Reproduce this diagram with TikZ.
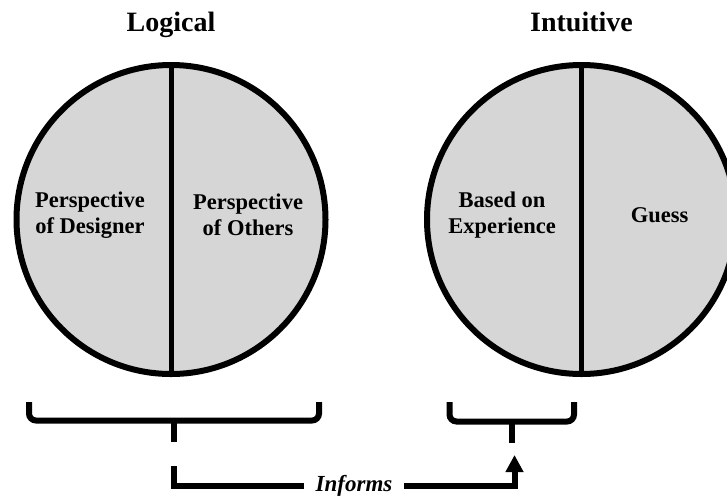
\documentclass[tikz,border=0pt]{standalone}
\usepackage{fontspec}
\setmainfont{Liberation Serif}
\usetikzlibrary{arrows.meta}
\definecolor{relleno}{gray}{0.84}

\begin{document}
\begin{tikzpicture}[x=1pt, y=-1pt,
    mitad/.style={circle, draw=black, line width=6pt, fill=relleno, minimum size=309pt, inner sep=0pt},
    titulo/.style={font=\fontsize{28}{32}\selectfont\bfseries, anchor=base},
    texto/.style={font=\fontsize{22.5}{26}\selectfont\bfseries, align=center},
    corchete/.style={line width=6pt, rounded corners=7pt}]
    \clip (0,0) rectangle (727,499);

    % Circulo logico
    \node[mitad] (logico) at (171,219.5) {};
    \draw[line width=5pt] (logico.north) -- (logico.south);
    \node[titulo] (tlogico) at (171,31) {Logical};
    \node[texto] (disenador) at (90,215) {Perspective\\of Designer};
    \node[texto] (otros) at (248,215) {Perspective\\of Others};

    % Circulo intuitivo
    \node[mitad] (intuitivo) at (581.5,219.5) {};
    \draw[line width=5pt] (intuitivo.north) -- (intuitivo.south);
    \node[titulo] (tintuitivo) at (581.5,31) {Intuitive};
    \node[texto] (experiencia) at (502,215) {Based on\\Experience};
    \node[texto] (adivinar) at (659.5,215) {Guess};

    % Corchetes
    \draw[corchete] (29,402) -- (29,420.5) -- (319,420.5) -- (319,402);
    \draw[line width=6pt] (173.5,420) -- (173.5,442);
    \draw[corchete] (449.5,402) -- (449.5,421.5) -- (574,421.5) -- (574,402);
    \draw[line width=6pt] (512,421) -- (512,443);

    % Flecha "Informs"
    \coordinate (origen) at (173.5,466);
    \coordinate (destino) at (514.5,455);
    \node[font=\fontsize{23}{26}\selectfont\bfseries\itshape, inner xsep=12pt, outer sep=0pt] (informa) at (354,485.5) {Informs};
    \draw[line width=6pt] (origen) |- (informa.west);
    \draw[line width=6pt, -{Triangle[length=17pt,width=17pt]}] (informa.east) -| (destino);
\end{tikzpicture}
\end{document}
